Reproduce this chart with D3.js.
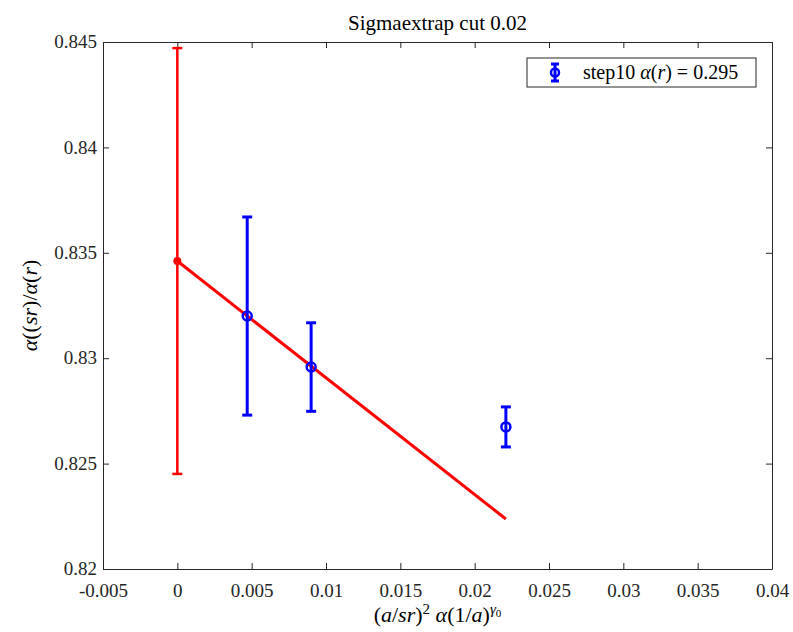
<!DOCTYPE html>
<html>
<head>
<meta charset="utf-8">
<script src="https://cdn.jsdelivr.net/npm/d3@7"></script>
<style>
body { margin: 0; background: #fff; }
</style>
</head>
<body>
<svg id="canvas" width="793" height="632"></svg>
<script>
// blue data points (step10)
var xs = [0.0047, 0.0090, 0.0221];
var ys = [0.8320, 0.82958, 0.82674];
var errs = [0.0047, 0.0021, 0.00095];

// red extrapolated point + fit line
var extrapX = [0];
var extrapY = [0.83461];
var extrapErr = [0.0101];
var fitX = [0, 0.0221];
var fitY = [0.83461, 0.82237];

var xTicks = [-0.005, 0, 0.005, 0.01, 0.015, 0.02, 0.025, 0.03, 0.035, 0.04];
var yTicks = [0.82, 0.825, 0.83, 0.835, 0.84, 0.845];

var L = 103, R = 772, T = 42, B = 569;
var svg = d3.select('#canvas');

var x = d3.scaleLinear().domain([-0.005, 0.04]).range([L, R]);
var y = d3.scaleLinear().domain([0.82, 0.845]).range([B, T]);

var fmt = function(d) { return d === 0 ? '0' : String(+d.toFixed(3)); };

// axes, ticks pointing inward (matlab style)
var axCol = '#262626';
svg.append('g').attr('transform', 'translate(0,' + B + ')')
    .call(d3.axisBottom(x).tickValues(xTicks).tickSizeInner(-6).tickSizeOuter(0).tickFormat(fmt))
    .call(function(g) {
        g.selectAll('text').attr('dy', null).attr('y', 28);
    });
svg.append('g').attr('transform', 'translate(' + L + ',0)')
    .call(d3.axisLeft(y).tickValues(yTicks).tickSizeInner(-6).tickSizeOuter(0).tickFormat(fmt))
    .call(function(g) {
        g.selectAll('text').attr('x', -6).attr('dy', '0.3em');
    });
svg.append('g').attr('transform', 'translate(0,' + T + ')')
    .call(d3.axisTop(x).tickValues(xTicks).tickSizeInner(-6).tickSizeOuter(0).tickFormat(''));
svg.append('g').attr('transform', 'translate(' + R + ',0)')
    .call(d3.axisRight(y).tickValues(yTicks).tickSizeInner(-6).tickSizeOuter(0).tickFormat(''));
svg.selectAll('g').attr('font-family', null).attr('font-size', null);
svg.selectAll('.domain, .tick line').attr('stroke', axCol);
svg.selectAll('.tick text').attr('fill', axCol).attr('font-size', 19);

// fit line
svg.append('line')
    .attr('x1', x(fitX[0])).attr('y1', y(fitY[0]))
    .attr('x2', x(fitX[1])).attr('y2', y(fitY[1]))
    .attr('stroke', 'red').attr('stroke-width', 3);

function errorBars(g, px, py, pe, col, w) {
    px.forEach(function(xv, i) {
        var cx = x(xv), top = y(py[i] + pe[i]), bot = y(py[i] - pe[i]);
        g.append('line').attr('x1', cx).attr('x2', cx).attr('y1', top).attr('y2', bot)
            .attr('stroke', col).attr('stroke-width', w);
        [top, bot].forEach(function(yy) {
            g.append('line').attr('x1', cx - 5).attr('x2', cx + 5).attr('y1', yy).attr('y2', yy)
                .attr('stroke', col).attr('stroke-width', w);
        });
    });
}

var gRed = svg.append('g');
errorBars(gRed, extrapX, extrapY, extrapErr, 'red', 2.5);
gRed.selectAll('circle').data(extrapX).enter().append('circle')
    .attr('cx', function(d) { return x(d); })
    .attr('cy', function(d, i) { return y(extrapY[i]); })
    .attr('r', 4).attr('fill', 'red');

var gBlue = svg.append('g');
errorBars(gBlue, xs, ys, errs, 'blue', 3);
gBlue.selectAll('circle').data(xs).enter().append('circle')
    .attr('cx', function(d) { return x(d); })
    .attr('cy', function(d, i) { return y(ys[i]); })
    .attr('r', 4.5).attr('fill', 'none').attr('stroke', 'blue').attr('stroke-width', 2.5);

// legend
var lg = svg.append('g');
lg.append('rect').attr('x', 527).attr('y', 58).attr('width', 229).attr('height', 29)
    .attr('fill', 'white').attr('stroke', axCol).attr('stroke-width', 1);
lg.append('line').attr('x1', 555).attr('x2', 555).attr('y1', 64).attr('y2', 81)
    .attr('stroke', 'blue').attr('stroke-width', 3);
[64, 81].forEach(function(yy) {
    lg.append('line').attr('x1', 551).attr('x2', 559).attr('y1', yy).attr('y2', yy)
        .attr('stroke', 'blue').attr('stroke-width', 3);
});
lg.append('circle').attr('cx', 555).attr('cy', 72.5).attr('r', 4)
    .attr('fill', 'none').attr('stroke', 'blue').attr('stroke-width', 2.5);
var lt = lg.append('text').attr('x', 583).attr('y', 79).attr('font-size', 20).attr('fill', '#000');
lt.append('tspan').text('step10 ');
lt.append('tspan').attr('font-style', 'italic').text('α');
lt.append('tspan').text('(');
lt.append('tspan').attr('font-style', 'italic').text('r');
lt.append('tspan').text(') = 0.295');

// title
svg.append('text').attr('x', (L + R) / 2).attr('y', 30).attr('text-anchor', 'middle')
    .attr('font-size', 21).attr('fill', '#000').text('Sigmaextrap cut 0.02');

// x label
var xl = svg.append('text').attr('x', (L + R) / 2).attr('y', 622).attr('text-anchor', 'middle')
    .attr('font-size', 22).attr('fill', '#000');
xl.append('tspan').text('(');
xl.append('tspan').attr('font-style', 'italic').text('a');
xl.append('tspan').text('/');
xl.append('tspan').attr('font-style', 'italic').text('sr');
xl.append('tspan').text(')');
xl.append('tspan').attr('dy', -8).attr('font-size', 15).text('2');
xl.append('tspan').attr('dy', 8).text(' ');
xl.append('tspan').attr('font-style', 'italic').text('α');
xl.append('tspan').text('(1/');
xl.append('tspan').attr('font-style', 'italic').text('a');
xl.append('tspan').text(')');
xl.append('tspan').attr('dy', -8).attr('font-size', 15).attr('font-style', 'italic').text('γ');
xl.append('tspan').attr('dy', 3).attr('font-size', 11).text('0');

// y label
var yl = svg.append('text').attr('transform', 'translate(37,' + ((T + B) / 2) + ') rotate(-90)')
    .attr('text-anchor', 'middle').attr('font-size', 22).attr('fill', '#000');
yl.append('tspan').attr('font-style', 'italic').text('α');
yl.append('tspan').text('((');
yl.append('tspan').attr('font-style', 'italic').text('sr');
yl.append('tspan').text(')/');
yl.append('tspan').attr('font-style', 'italic').text('α');
yl.append('tspan').text('(');
yl.append('tspan').attr('font-style', 'italic').text('r');
yl.append('tspan').text(')');

// serif on every text element itself
svg.selectAll('text').attr('font-family', 'Liberation Serif');
</script>
</body>
</html>
